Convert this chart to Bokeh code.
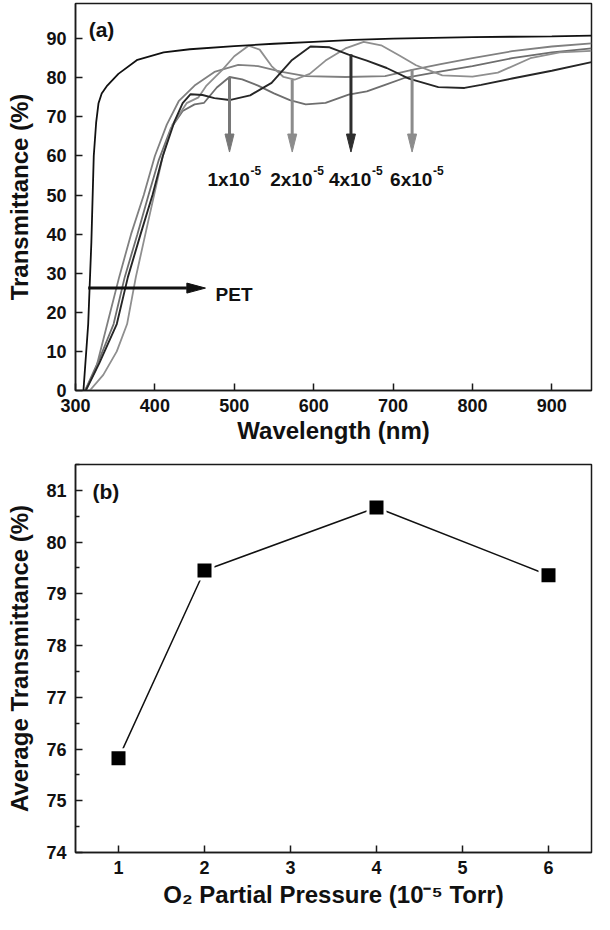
from bokeh.plotting import figure
from bokeh.layouts import column
from bokeh.models import FixedTicker, Range1d
from bokeh.core.properties import value
from bokeh.embed import file_html
from bokeh.resources import INLINE

FONT = "Liberation Sans"

# ---------------- panel (a): transmittance spectra ----------------
x_ticks_a = [300, 400, 500, 600, 700, 800, 900]
y_ticks_a = [0, 10, 20, 30, 40, 50, 60, 70, 80, 90]

pet_wl = [310, 316, 320, 323, 326, 329, 333, 340, 354, 378, 411, 444, 500, 550,
          600, 650, 700, 750, 800, 850, 900, 950]
pet_T = [0, 17, 38, 60, 68.5, 73.5, 76, 78, 81, 84.6, 86.5, 87.3, 88.1, 88.7,
         89.2, 89.7, 90.0, 90.2, 90.4, 90.5, 90.6, 90.8]

wl_1 = [312, 330, 348, 362, 378, 392, 405, 420, 435, 450, 462, 478, 494, 510, 530,
        550, 570, 590, 615, 644, 667, 690, 715, 757, 800, 850, 900, 950]
T_1 = [0, 8, 17, 29, 40, 50, 59, 67, 71.5, 73.2, 73.6, 77.5, 80.2, 79.6, 78,
       76, 74.3, 73.2, 73.6, 75.7, 76.5, 78.2, 80, 81.5, 83, 85, 86.5, 87.5]

wl_2 = [318, 335, 352, 365, 376, 388, 399, 410, 422, 440, 455, 465, 485, 500, 518,
        532, 547, 562, 576, 595, 615, 640, 663, 685, 708, 729, 762, 800, 832, 873,
        910, 950]
T_2 = [0, 4, 10, 17, 29, 40, 50, 60, 68, 73.5, 75, 78, 82, 85.5, 88.2,
       87.2, 83, 80.2, 79.5, 81, 84.4, 87.5, 89.2, 88.3, 85.7, 83.2, 80.6, 80.3, 81.3, 85,
       86.5, 86.9]

wl_4 = [313, 330, 352, 366, 382, 397, 410, 425, 435, 445, 460, 475, 494, 520, 547,
        572, 596, 620, 644, 667, 692, 720, 757, 790, 811, 850, 900, 950]
T_4 = [0, 7, 17, 29, 40, 50, 60, 69, 73.5, 75.8, 75.6, 74.8, 74.3, 75.5, 78.7,
       84.4, 88, 87.8, 85.9, 84.4, 82.5, 79.8, 77.6, 77.4, 78.2, 79.8, 81.8, 84]

wl_6 = [312, 325, 340, 355, 370, 386, 400, 415, 430, 450, 475, 505, 530, 560, 590,
        640, 690, 724, 760, 800, 850, 900, 950]
T_6 = [0, 5, 17, 29, 40, 50, 60, 68, 74, 78, 81.5, 83.3, 83, 81.5, 80.4,
       80.2, 80.4, 82, 83.5, 85, 86.8, 88, 88.8]

arrow_wl = [494, 573, 647, 724]
arrow_top = [80.2, 79.5, 86.0, 82.2]
arrow_tip = [61.0, 61.0, 61.0, 61.0]
arrow_colors = ["#777777", "#8c8c8c", "#2e2e2e", "#8c8c8c"]
label_base = ["1x10", "2x10", "4x10", "6x10"]
label_sup = ["-5", "-5", "-5", "-5"]
label_y = 54.0

pet_arrow_x0 = 316
pet_arrow_x1 = 463.7
pet_arrow_y = 26.2

# ---------------- panel (b): average transmittance ----------------
pressure = [1, 2, 4, 6]
avg_T = [75.82, 79.45, 80.67, 79.36]
x_ticks_b = [1, 2, 3, 4, 5, 6]
y_ticks_b = [74, 75, 76, 77, 78, 79, 80, 81]
y_minor_b = [74.5, 75.5, 76.5, 77.5, 78.5, 79.5, 80.5, 81.5]

# ---------------- geometry ----------------
FW = 516
FH1, FH2 = 387, 388
BL, BR = 75, 3
BT1, BT2 = 3, 18
XR_A = (300, 950)
YR_A = (0, 99)
XR_B = (0.5, 6.5)
YR_B = (74, 81.5)

x_per_px = (XR_A[1] - XR_A[0]) / FW
y_per_px = (YR_A[1] - YR_A[0]) / FH1

AX = "#1a1a1a"


def style(p, xt, yt, xlabel, ylabel, yminor=None, xstand=2):
    p.xgrid.visible = False
    p.ygrid.visible = False
    p.outline_line_color = AX
    p.outline_line_width = 1.5
    p.xaxis.ticker = FixedTicker(ticks=xt)
    if yminor:
        p.yaxis.ticker = FixedTicker(ticks=yt, minor_ticks=yminor)
    else:
        p.yaxis.ticker = FixedTicker(ticks=yt)
    p.xaxis.axis_label = xlabel
    p.yaxis.axis_label = ylabel
    for ax in (p.xaxis[0], p.yaxis[0]):
        ax.axis_line_color = AX
        ax.axis_line_width = 1.5
        ax.major_tick_line_color = AX
        ax.major_tick_line_width = 1.5
        ax.major_tick_in = 7
        ax.major_tick_out = 0
        ax.minor_tick_line_color = AX
        ax.minor_tick_line_width = 1.3
        ax.minor_tick_in = 0
        ax.minor_tick_out = 0
        ax.major_label_text_font = FONT
        ax.major_label_text_font_size = "18px"
        ax.major_label_text_font_style = "bold"
        ax.major_label_text_color = "#111111"
        ax.axis_label_text_font = FONT
        ax.axis_label_text_font_size = "24px"
        ax.axis_label_text_font_style = "bold"
        ax.axis_label_text_color = "#111111"
    p.xaxis.major_label_standoff = 8
    p.yaxis.major_label_standoff = 9
    p.xaxis.axis_label_standoff = xstand
    p.yaxis.axis_label_standoff = 10
    if yminor:
        p.yaxis.minor_tick_in = 4


p1 = figure(frame_width=FW, frame_height=FH1, x_range=Range1d(*XR_A), y_range=Range1d(*YR_A),
            output_backend="svg", toolbar_location=None,
            min_border_left=BL, min_border_right=BR,
            min_border_top=BT1, min_border_bottom=0)
style(p1, x_ticks_a, y_ticks_a, "Wavelength (nm)", "Transmittance (%)")

p1.line(wl_1, T_1, line_color="#6e6e6e", line_width=1.8)
p1.line(wl_6, T_6, line_color="#808080", line_width=1.8)
p1.line(wl_2, T_2, line_color="#8f8f8f", line_width=1.8)
p1.line(wl_4, T_4, line_color="#262626", line_width=1.9)
p1.line(pet_wl, pet_T, line_color="#111111", line_width=1.8)

# vertical arrows
HL = 18 * y_per_px
HW = 4.5 * x_per_px
p1.segment(x0=arrow_wl, y0=arrow_top, x1=arrow_wl, y1=[t + HL for t in arrow_tip],
           color=arrow_colors, line_width=3)
p1.patches(xs=[[x - HW, x + HW, x] for x in arrow_wl],
           ys=[[t + HL, t + HL, t] for t in arrow_tip],
           color=arrow_colors)

# PET arrow
PHL = 18.6 * x_per_px
PHW = 5 * y_per_px
p1.segment(x0=[pet_arrow_x0], y0=[pet_arrow_y], x1=[pet_arrow_x1 - PHL], y1=[pet_arrow_y],
           color="#111111", line_width=3)
p1.patches(xs=[[pet_arrow_x1 - PHL, pet_arrow_x1 - PHL, pet_arrow_x1]],
           ys=[[pet_arrow_y + PHW, pet_arrow_y - PHW, pet_arrow_y]],
           color="#111111")

p1.text(x=arrow_wl, y=[label_y] * 4, text=label_base, text_font=value(FONT),
        text_font_style="bold", text_font_size="19px", text_color="#111111",
        text_align="left", text_baseline="alphabetic", x_offset=-22)
p1.text(x=arrow_wl, y=[label_y + 9 * y_per_px] * 4, text=label_sup, text_font=value(FONT),
        text_font_style="bold", text_font_size="12px", text_color="#111111",
        text_align="left", text_baseline="alphabetic", x_offset=21)
p1.text(x=[476.4], y=[24.6], text=["PET"], text_font=value(FONT),
        text_font_style="bold", text_font_size="19px", text_color="#111111",
        text_align="left", text_baseline="alphabetic")
p1.text(x=[316.6], y=[92.3], text=["(a)"], text_font=value(FONT),
        text_font_style="bold", text_font_size="21px", text_color="#111111",
        text_align="left", text_baseline="alphabetic")

# ---------------- panel (b) ----------------
p2 = figure(frame_width=FW, frame_height=FH2, x_range=Range1d(*XR_B), y_range=Range1d(*YR_B),
            output_backend="svg", toolbar_location=None,
            min_border_left=BL, min_border_right=BR,
            min_border_top=BT2, min_border_bottom=0)
style(p2, x_ticks_b, y_ticks_b, "O\u2082 Partial Pressure (10\u207b\u2075 Torr)",
      "Average Transmittance (%)", yminor=y_minor_b, xstand=4)

p2.line(pressure, avg_T, line_color="#111111", line_width=1.5)
p2.scatter(pressure, avg_T, marker="square", size=17, fill_color="#000000",
           line_color="white", line_width=3)
p2.text(x=[0.698], y=[80.97], text=["(b)"], text_font=value(FONT),
        text_font_style="bold", text_font_size="21px", text_color="#111111",
        text_align="left", text_baseline="alphabetic")

layout = column(p1, p2)
open("out.html", "w").write(file_html(layout, INLINE))
